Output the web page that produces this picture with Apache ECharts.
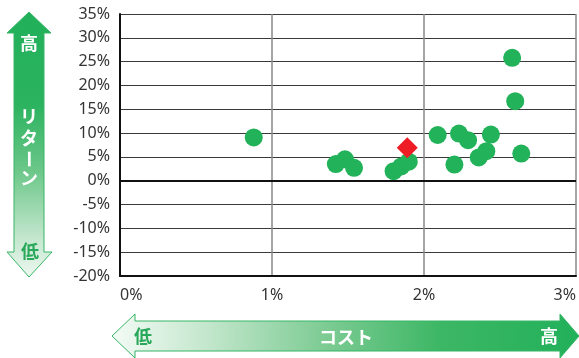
<!DOCTYPE html>
<html><head><meta charset="utf-8">
<script src="https://cdn.jsdelivr.net/npm/echarts@6/dist/echarts.min.js"></script>
<style>html,body{margin:0;padding:0;background:#fff}#c{width:579px;height:358px}</style>
</head><body><div id="c"></div>
<script>
const xTicks = [0, 1, 2, 3];
const yTicks = [-20, -15, -10, -5, 0, 5, 10, 15, 20, 25, 30, 35];
const fundCost = [0.88, 1.42, 1.48, 1.54, 1.80, 1.85, 1.90, 2.09, 2.20, 2.23, 2.29, 2.36, 2.41, 2.44, 2.58, 2.60, 2.64];
const fundReturn = [9.1, 3.5, 4.5, 2.7, 2.0, 3.0, 4.0, 9.6, 3.4, 9.9, 8.5, 4.9, 6.2, 9.7, 25.8, 16.7, 5.7];
const targetCost = [1.89];
const targetReturn = [6.9];

const chart = echarts.init(document.getElementById('c'), null, {renderer: 'canvas'});
const jp = '"Noto Sans CJK JP", sans-serif';
const green = '#22b259';
function jt(text, x, y, fill, rot) {
  return {type: 'text', x: x, y: y, rotation: rot || 0,
    style: {text: text, fill: fill, fontSize: 18, fontWeight: 'bold', fontFamily: jp, align: 'center', verticalAlign: 'middle'}};
}
chart.setOption({
  animation: false,
  grid: {left: 120, top: 14, width: 460, bottom: 82, show: false},
  xAxis: {
    type: 'value', min: xTicks[0], max: xTicks[xTicks.length - 1], interval: 1,
    axisLine: {show: true, onZero: false, lineStyle: {color: '#111', width: 2}},
    axisTick: {show: false},
    splitLine: {show: true, lineStyle: {color: '#888', width: 1.5}},
    axisLabel: {formatter: '{value}%', color: '#333', fontSize: 16, fontFamily: '"Noto Sans", sans-serif',
      margin: 11, alignMinLabel: 'left', alignMaxLabel: 'right'}
  },
  yAxis: {
    type: 'value', min: yTicks[0], max: yTicks[yTicks.length - 1], interval: 5,
    axisLine: {show: true, lineStyle: {color: '#111', width: 2}},
    axisTick: {show: false},
    splitLine: {show: true, lineStyle: {color: '#3a3a3a', width: 1}},
    axisLabel: {formatter: '{value}%', color: '#333', fontSize: 16, fontFamily: '"Noto Sans", sans-serif', margin: 10}
  },
  series: [
    {type: 'scatter', data: fundCost.map((c, i) => [c, fundReturn[i]]), symbol: 'circle', symbolSize: 18,
      itemStyle: {color: green, opacity: 1},
      markLine: {silent: true, symbol: 'none', label: {show: false}, lineStyle: {color: '#111', width: 2, type: 'solid'},
        data: [{yAxis: 0}]}},
    {type: 'scatter', data: targetCost.map((c, i) => [c, targetReturn[i]]), symbol: 'diamond', symbolSize: 21,
      itemStyle: {color: '#ee1d25', opacity: 1}, z: 3}
  ],
  graphic: [
    {type: 'polygon', shape: {points: [[29,12],[51,33],[44,33],[44,252],[52,252],[29,277],[7,252],[14,252],[14,33],[7,33]]},
      style: {fill: new echarts.graphic.LinearGradient(0, 0, 0, 1, [
        {offset: 0, color: '#22b05a'}, {offset: 0.35, color: '#2bb35f'}, {offset: 0.6, color: '#6cc789'},
        {offset: 0.85, color: '#c3e6cd'}, {offset: 1, color: '#eef8f1'}]), stroke: '#36b566', lineWidth: 1}},
    {type: 'polygon', shape: {points: [[112,336],[135,314],[135,321],[560,321],[560,314],[579,336],[560,358],[560,351],[135,351],[135,358]]},
      style: {fill: new echarts.graphic.LinearGradient(0, 0, 1, 0, [
        {offset: 0, color: '#f4fbf6'}, {offset: 0.2, color: '#c4e7cd'}, {offset: 0.45, color: '#7fcc95'},
        {offset: 0.7, color: '#3db765'}, {offset: 1, color: '#22b05a'}]), stroke: '#36b566', lineWidth: 1}},
    jt('高', 29, 43, '#fff'),
    jt('リ', 29, 116, '#fff'),
    jt('タ', 29, 138, '#fff'),
    jt('ー', 29, 159, '#fff', -Math.PI / 2),
    jt('ン', 29, 178, '#fff'),
    jt('低', 30, 251, '#2aa85a'),
    jt('低', 143, 336, '#2aa85a'),
    jt('コスト', 346, 337, '#fff'),
    jt('高', 549, 336, '#fff')
  ]
});
</script></body></html>
